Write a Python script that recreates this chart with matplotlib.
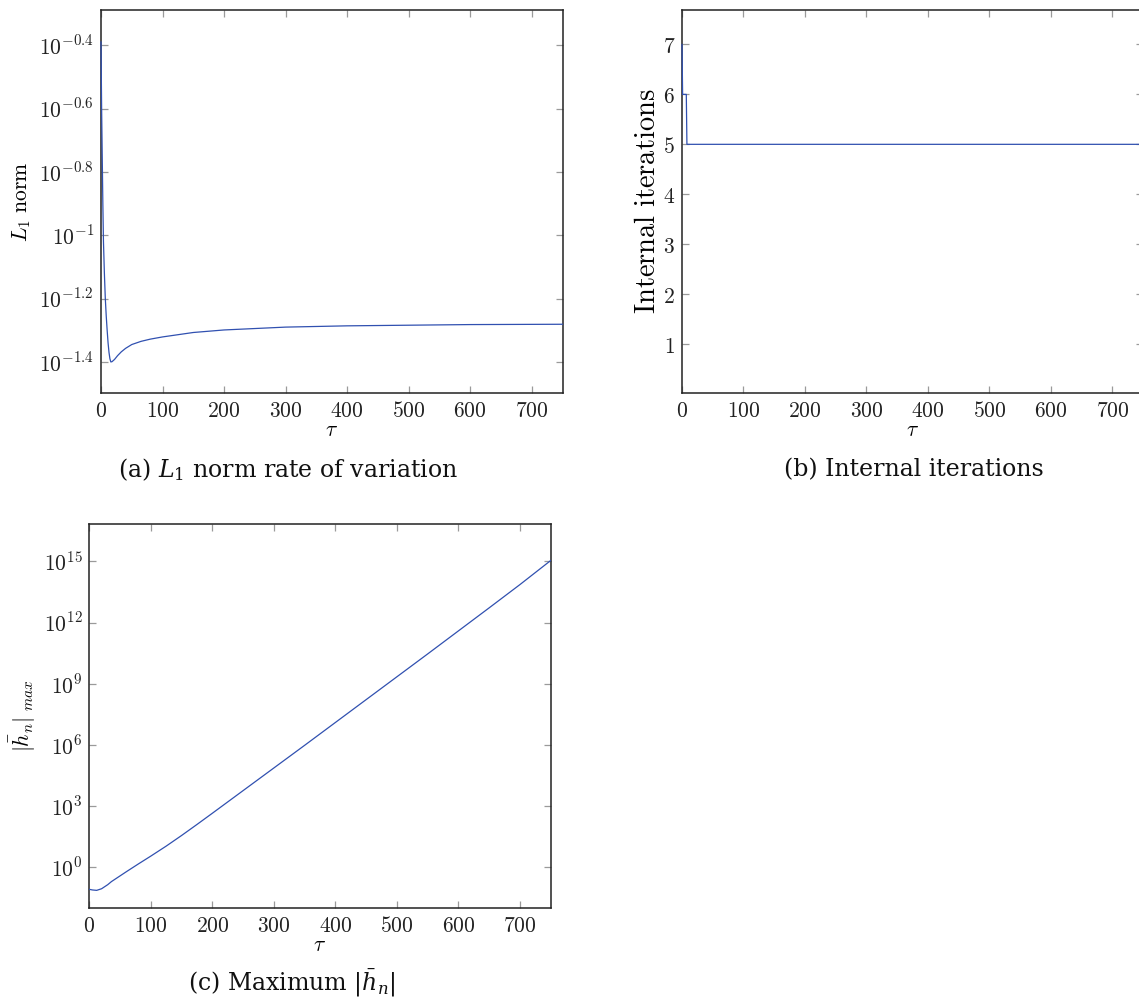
import numpy as np
import matplotlib
matplotlib.use("Agg")
import matplotlib.pyplot as plt
from matplotlib.ticker import FixedLocator, FixedFormatter, NullLocator

plt.rcParams['mathtext.fontset'] = 'cm'
plt.rcParams['font.family'] = ['DejaVu Serif']

# ---- data (a): L1 norm rate of variation (log10 of value) ----
tau_a = [0, 1, 2, 3, 4, 5.5, 7, 8.5, 10, 11.5, 13, 14.5, 16, 18, 22, 27, 33, 40, 50, 65, 80,
         100, 150, 200, 300, 400, 500, 600, 750]
l1_log10 = [-0.39, -0.60, -0.75, -0.90, -1.02, -1.12, -1.20, -1.255, -1.30, -1.34, -1.37, -1.39,
            -1.400, -1.399, -1.392, -1.380, -1.368, -1.357, -1.345, -1.335, -1.328,
            -1.321, -1.307, -1.299, -1.290, -1.286, -1.284, -1.282, -1.281]

# ---- data (b): internal iterations ----
tau_b = [0, 1, 7, 8, 750]
iters = [7, 6, 6, 5, 5]

# ---- data (c): maximum |h_n| (log10 of value) ----
tau_c = [0, 5, 12, 20, 30, 36, 40, 50, 60, 80, 100, 125, 150, 175, 200, 250, 300, 350, 400,
         450, 500, 550, 600, 650, 700, 750]
hmax_log10 = [-1.08, -1.11, -1.13, -1.05, -0.85, -0.70, -0.62, -0.42, -0.22, 0.17, 0.55, 1.04,
              1.56, 2.10, 2.65, 3.76, 4.87, 5.98, 7.10, 8.22, 9.34, 10.46, 11.59, 12.72,
              13.86, 15.04]

x_ticks = [0, 100, 200, 300, 400, 500, 600, 700]
a_ytick_exp = [-0.4, -0.6, -0.8, -1, -1.2, -1.4]
a_ytick_labels = ['$10^{-0.4}$', '$10^{-0.6}$', '$10^{-0.8}$', '$10^{-1}$', '$10^{-1.2}$', '$10^{-1.4}$']
b_yticks = [1, 2, 3, 4, 5, 6, 7]
c_ytick_exp = [0, 3, 6, 9, 12, 15]
c_ytick_labels = ['$10^{0}$', '$10^{3}$', '$10^{6}$', '$10^{9}$', '$10^{12}$', '$10^{15}$']

captions = [r'(a) $L_1$ norm rate of variation', '(b) Internal iterations', r'(c) Maximum $|\bar{h}_n|$']

W, H = 1139, 1002
fig = plt.figure(figsize=(W / 100, H / 100), dpi=100)

def box(l, r, t, b):
    return [l / W, 1 - b / H, (r - l) / W, (b - t) / H]

LINE = '#3050b0'
TICKFS = 15.5

def style(ax):
    for s in ax.spines.values():
        s.set_linewidth(1.1)
        s.set_color('#222222')
    ax.tick_params(which='major', direction='in', length=5, width=0.9, color='#9a9a9a',
                   top=True, right=True, labelsize=TICKFS, pad=5, labelcolor='#222222')
    ax.tick_params(which='minor', length=0)
    ax.set_xlim(0, 750)
    ax.xaxis.set_major_locator(FixedLocator(x_ticks))
    ax.xaxis.set_major_formatter(FixedFormatter([f'${v}$' for v in x_ticks]))
    ax.set_xlabel(r'$\tau$', fontsize=TICKFS, labelpad=-2)

# (a)
ax1 = fig.add_axes(box(101, 562.5, 10, 393))
ax1.plot(tau_a, 10 ** np.array(l1_log10), color=LINE, lw=0.9, zorder=3, clip_on=False)
ax1.set_yscale('log')
ax1.set_ylim(10 ** -1.498, 10 ** -0.289)
ax1.yaxis.set_major_locator(FixedLocator([10 ** e for e in a_ytick_exp]))
ax1.yaxis.set_major_formatter(FixedFormatter(a_ytick_labels))
ax1.yaxis.set_minor_locator(NullLocator())
style(ax1)
ax1.set_ylabel(r'$L_1\ \mathrm{norm}$', fontsize=TICKFS, labelpad=4)

# (b)
ax2 = fig.add_axes(box(682, 1143, 10, 393))
ax2.plot(tau_b, iters, color=LINE, lw=0.9, zorder=3, clip_on=False)
ax2.set_ylim(0.02, 7.69)
ax2.yaxis.set_major_locator(FixedLocator(b_yticks))
ax2.yaxis.set_major_formatter(FixedFormatter([f'${v}$' for v in b_yticks]))
style(ax2)
ax2.set_ylabel(r'$\mathrm{Internal\ iterations}$', fontsize=20.5, labelpad=1)

# (c)
ax3 = fig.add_axes(box(89.3, 550.7, 524, 907.7))
ax3.plot(tau_c, 10 ** np.array(hmax_log10), color=LINE, lw=0.9, zorder=3)
ax3.set_yscale('log')
ax3.set_ylim(10 ** -1.98, 10 ** 16.83)
ax3.yaxis.set_major_locator(FixedLocator([10.0 ** e for e in c_ytick_exp]))
ax3.yaxis.set_major_formatter(FixedFormatter(c_ytick_labels))
ax3.yaxis.set_minor_locator(NullLocator())
style(ax3)
ax3.set_ylabel(r'$|\bar{h}_n|_{\ max}$', fontsize=TICKFS, labelpad=4)

# captions
cap_kw = dict(ha='center', va='center', fontsize=17, family='DejaVu Serif',
              math_fontfamily='dejavuserif', color='#111111')
fig.text(288 / W, 1 - 470 / H, captions[0], **cap_kw)
fig.text(914 / W, 1 - 470 / H, captions[1], **cap_kw)
fig.text(292 / W, 1 - 983 / H, captions[2], **cap_kw)

fig.savefig('out.png', dpi=100)
